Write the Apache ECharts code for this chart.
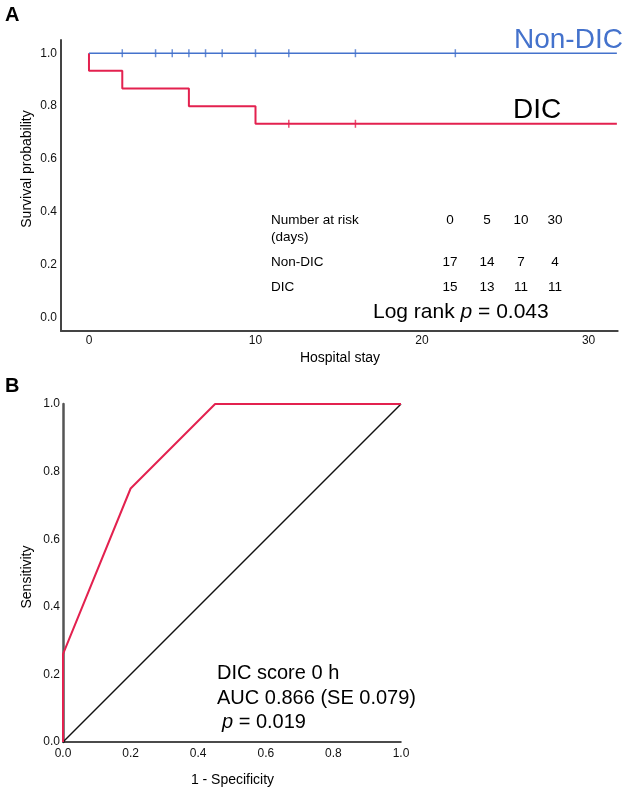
<!DOCTYPE html>
<html>
<head>
<meta charset="utf-8">
<script src="https://cdn.jsdelivr.net/npm/echarts@6/dist/echarts.min.js"></script>
<style>
html,body{margin:0;padding:0;background:#fff;}
#chart{width:630px;height:792px;}
</style>
</head>
<body>
<div id="chart"></div>
<script>
// ---- Panel A: Kaplan-Meier data ----
var nonDicTimes = [0, 31.7];
var nonDicSurv = [1.0, 1.0];
var nonDicCensor = [2, 4, 5, 6, 7, 8, 10, 12, 16, 22];

var dicTimes = [0, 0, 2, 6, 10, 31.7];
var dicSurv = [1.0, 0.9333, 0.8667, 0.8, 0.7333, 0.7333];
var dicCensor = [12, 16];

var kmXTicks = [0, 10, 20, 30];
var kmYTicks = [0, 0.2, 0.4, 0.6, 0.8, 1.0];

var riskTimes = ['0', '5', '10', '30'];
var riskNonDIC = [17, 14, 7, 4];
var riskDIC = [15, 13, 11, 11];

// ---- Panel B: ROC data ----
var rocFPR = [0, 0, 0.2, 0.45, 1.0];
var rocTPR = [0, 0.26, 0.75, 1.0, 1.0];
var refFPR = [0, 1];
var refTPR = [0, 1];
var rocTicks = [0, 0.2, 0.4, 0.6, 0.8, 1.0];

var BLUE = '#4472cc';
var RED = '#e3214f';
var FONT = 'Liberation Sans, Arial, sans-serif';

function pairs(xs, ys) { return xs.map(function (x, i) { return [x, ys[i]]; }); }
function stepAt(times, surv, t) {
  var v = surv[0];
  for (var i = 0; i < times.length; i++) { if (times[i] <= t) v = surv[i]; }
  return v;
}

var chart = echarts.init(document.getElementById('chart'), null, { renderer: 'canvas' });

var tickLabel = { color: '#111', fontSize: 12, fontFamily: FONT };

var colX = [450, 487, 521, 555];
var graphics = [];
function txt(x, y, s, opt) {
  opt = opt || {};
  graphics.push({
    type: 'text', left: undefined, x: x, y: y, rotation: opt.rotation || 0,
    style: {
      text: s, x: 0, y: 0, fill: opt.color || '#000',
      font: (opt.weight || 'normal') + ' ' + (opt.size || 14) + 'px ' + FONT,
      textAlign: opt.align || 'left', textVerticalAlign: 'middle',
      rich: opt.rich
    }
  });
}
txt(5, 15, 'A', { size: 20, weight: 'bold' });
txt(5, 386, 'B', { size: 20, weight: 'bold' });
txt(514, 40, 'Non-DIC', { size: 28, color: BLUE });
txt(513, 110, 'DIC', { size: 28 });
txt(271, 220, 'Number at risk', { size: 13.5 });
txt(271, 237, '(days)', { size: 13.5 });
txt(271, 262, 'Non-DIC', { size: 13.5 });
txt(271, 287, 'DIC', { size: 13.5 });
for (var i = 0; i < riskTimes.length; i++) {
  txt(colX[i], 220, riskTimes[i], { size: 13.5, align: 'center' });
  txt(colX[i], 262, String(riskNonDIC[i]), { size: 13.5, align: 'center' });
  txt(colX[i], 287, String(riskDIC[i]), { size: 13.5, align: 'center' });
}
graphics.push({
  type: 'text', x: 373, y: 312,
  style: {
    text: '{a|Log rank }{b|p}{a| = 0.043}', x: 0, y: 0, textVerticalAlign: 'middle',
    rich: {
      a: { fontSize: 21, fontFamily: FONT, fill: '#000' },
      b: { fontSize: 21, fontFamily: FONT, fontStyle: 'italic', fill: '#000' }
    }
  }
});
txt(340, 358, 'Hospital stay', { size: 14, align: 'center' });
txt(27.5, 169, 'Survival probability', { size: 14, align: 'center', rotation: Math.PI / 2 });

txt(217, 673, 'DIC score 0 h', { size: 20 });
txt(217, 698, 'AUC 0.866 (SE 0.079)', { size: 20 });
graphics.push({
  type: 'text', x: 222, y: 722,
  style: {
    text: '{b|p}{a| = 0.019}', x: 0, y: 0, textVerticalAlign: 'middle',
    rich: {
      a: { fontSize: 20, fontFamily: FONT, fill: '#000' },
      b: { fontSize: 20, fontFamily: FONT, fontStyle: 'italic', fill: '#000' }
    }
  }
});
txt(232.5, 780, '1 - Specificity', { size: 14, align: 'center' });
txt(27, 577, 'Sensitivity', { size: 14, align: 'center', rotation: Math.PI / 2 });

var option = {
  animation: false,
  backgroundColor: '#fff',
  grid: [
    { left: 61, top: 40, width: 556.7, height: 291 },
    { left: 63, top: 404, width: 338, height: 338 }
  ],
  xAxis: [
    {
      gridIndex: 0, type: 'value', min: -1.68, max: 31.75,
      axisLine: { onZero: false, lineStyle: { color: '#444', width: 2 } },
      axisTick: { show: false },
      splitLine: { show: false },
      axisLabel: Object.assign({ margin: 4, customValues: kmXTicks }, tickLabel)
    },
    {
      gridIndex: 1, type: 'value', min: 0, max: 1,
      axisLine: { onZero: false, lineStyle: { color: '#111', width: 1.5 } },
      axisTick: { show: false },
      splitLine: { show: false },
      axisLabel: Object.assign({ margin: 6, customValues: rocTicks, formatter: function (v) { return v.toFixed(1); } }, tickLabel)
    }
  ],
  yAxis: [
    {
      gridIndex: 0, type: 'value', min: -0.05, max: 1.05,
      axisLine: { show: true, onZero: false, lineStyle: { color: '#444', width: 2 } },
      axisTick: { show: false },
      splitLine: { show: false },
      axisLabel: Object.assign({ margin: 4, customValues: kmYTicks, formatter: function (v) { return v.toFixed(1); } }, tickLabel)
    },
    {
      gridIndex: 1, type: 'value', min: 0, max: 1,
      axisLine: { show: true, onZero: false, lineStyle: { color: '#555', width: 2.5 } },
      axisTick: { show: false },
      splitLine: { show: false },
      axisLabel: Object.assign({ margin: 3, customValues: rocTicks, formatter: function (v) { return v.toFixed(1); } }, tickLabel)
    }
  ],
  series: [
    {
      type: 'line', xAxisIndex: 0, yAxisIndex: 0, step: 'end', symbol: 'none',
      data: pairs(dicTimes, dicSurv), lineStyle: { color: RED, width: 2 }, z: 2
    },
    {
      type: 'line', xAxisIndex: 0, yAxisIndex: 0, step: 'end', symbol: 'none',
      data: pairs(nonDicTimes, nonDicSurv), lineStyle: { color: BLUE, width: 1.6 }, z: 3
    },
    {
      type: 'scatter', xAxisIndex: 0, yAxisIndex: 0, symbol: 'rect', symbolSize: [1.5, 8],
      data: nonDicCensor.map(function (t) { return [t, stepAt(nonDicTimes, nonDicSurv, t)]; }),
      itemStyle: { color: BLUE }, z: 4
    },
    {
      type: 'scatter', xAxisIndex: 0, yAxisIndex: 0, symbol: 'rect', symbolSize: [1.5, 8],
      data: dicCensor.map(function (t) { return [t, stepAt(dicTimes, dicSurv, t)]; }),
      itemStyle: { color: RED }, z: 4
    },
    {
      type: 'line', xAxisIndex: 1, yAxisIndex: 1, symbol: 'none',
      data: pairs(refFPR, refTPR), lineStyle: { color: '#111', width: 1.5 }, z: 2
    },
    {
      type: 'line', xAxisIndex: 1, yAxisIndex: 1, symbol: 'none',
      data: pairs(rocFPR, rocTPR), lineStyle: { color: RED, width: 2 }, z: 5
    }
  ],
  graphic: graphics
};
chart.setOption(option);
</script>
</body>
</html>
